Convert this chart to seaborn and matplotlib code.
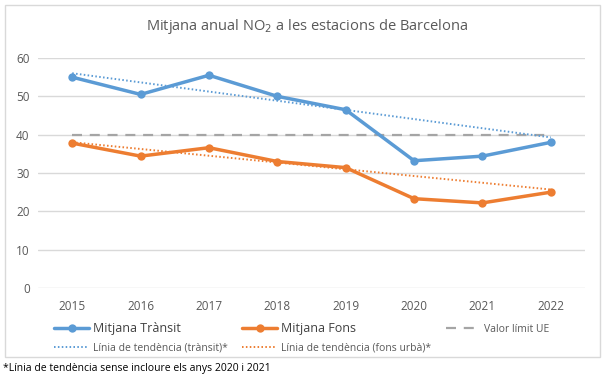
import numpy as np
import pandas as pd
import matplotlib
matplotlib.use("Agg")
import matplotlib.pyplot as plt
import seaborn as sns
from matplotlib.patches import Rectangle
from matplotlib.lines import Line2D

years = [2015, 2016, 2017, 2018, 2019, 2020, 2021, 2022]
transit = [55.0, 50.5, 55.5, 50.0, 46.5, 33.2, 34.4, 38.0]
fons = [37.8, 34.4, 36.6, 33.0, 31.4, 23.3, 22.2, 25.0]
limit_ue = [40] * len(years)
excluded_years = [2020, 2021]

title_txt = "Mitjana anual NO$_2$ a les estacions de Barcelona"
footnote = "*Línia de tendència sense incloure els anys 2020 i 2021"

sns.set_theme(style="white")
plt.rcParams['font.family'] = ['Open Sans', 'DejaVu Sans']

fig = plt.figure(figsize=(6.13, 3.83), dpi=100)
ax = fig.add_axes([38/613, 1-288/383, (585-38)/613, (288-58)/383])

blue = "#5B9BD5"
orange = "#ED7D31"
gray = "#A5A5A5"

df = pd.DataFrame({"year": years, "transit": transit, "fons": fons, "limit": limit_ue})

# trend lines (excluding 2020, 2021)
mask = ~df["year"].isin(excluded_years)
pt = np.polyfit(df.loc[mask, "year"], df.loc[mask, "transit"], 1)
pf = np.polyfit(df.loc[mask, "year"], df.loc[mask, "fons"], 1)
df["trend_t"] = np.polyval(pt, df["year"])
df["trend_f"] = np.polyval(pf, df["year"])

sns.lineplot(data=df, x="year", y="limit", ax=ax, color=gray, lw=1.6, dashes=False, zorder=2)
ax.lines[-1].set_linestyle((0, (4.5, 3.5)))
sns.lineplot(data=df, x="year", y="trend_t", ax=ax, color=blue, lw=1.4, zorder=3)
ax.lines[-1].set_linestyle((0, (0.8, 1.2)))
sns.lineplot(data=df, x="year", y="trend_f", ax=ax, color=orange, lw=1.4, zorder=3)
ax.lines[-1].set_linestyle((0, (0.8, 1.2)))
sns.lineplot(data=df, x="year", y="transit", ax=ax, color=blue, lw=2.5, marker="o",
             markersize=6, markeredgewidth=0, zorder=4)
sns.lineplot(data=df, x="year", y="fons", ax=ax, color=orange, lw=2.5, marker="o",
             markersize=6, markeredgewidth=0, zorder=4)

ax.set_xlim(2014.5, 2022.5)
ax.set_ylim(0, 60)
ax.set_yticks(range(0, 61, 10))
ax.set_xticks(years)
ax.set_xticklabels([str(y) for y in years])
ax.set_xlabel("")
ax.set_ylabel("")
ax.grid(axis="y", color="#D9D9D9", lw=1)
ax.set_axisbelow(True)
for s in ax.spines.values():
    s.set_visible(False)
ax.tick_params(axis="both", colors="#595959", labelsize=8.5, length=0, pad=6)
ax.tick_params(axis="x", pad=9)

fig.text(307/613, 1-26/383, title_txt, ha="center", va="center", fontsize=10.5, color="#595959")

# chart border
fig.patches.append(Rectangle((5/613, 1-357/383), 595/613, 352/383, transform=fig.transFigure,
                             fill=False, edgecolor="#D9D9D9", lw=1))

handles = [
    Line2D([], [], color=blue, lw=2.5, marker="o", markersize=6, markeredgewidth=0),
    Line2D([], [], color=blue, lw=1.4, linestyle=(0, (0.8, 1.2))),
    Line2D([], [], color=orange, lw=2.5, marker="o", markersize=6, markeredgewidth=0),
    Line2D([], [], color=orange, lw=1.4, linestyle=(0, (0.8, 1.2))),
    Line2D([], [], color=gray, lw=1.6, linestyle=(0, (4.5, 3.5))),
]
labels = ["Mitjana Trànsit", "Línia de tendència (trànsit)*",
          "Mitjana Fons", "Línia de tendència (fons urbà)*",
          "Valor límit UE"]
leg = fig.legend(handles, labels, ncol=3, loc="center left",
                 bbox_to_anchor=(45/613, 1-338/383), frameon=False,
                 fontsize=7.5, handlelength=3.3, columnspacing=1.4,
                 labelspacing=0.75, handletextpad=0.4)
for t in leg.get_texts():
    t.set_color("#595959")
leg.get_texts()[0].set_fontsize(9)
leg.get_texts()[2].set_fontsize(9)
leg.get_texts()[0].set_color("#404040")
leg.get_texts()[2].set_color("#404040")

fig.text(3/613, 1-368/383, footnote, ha="left", va="center", fontsize=7.5, color="#000000")

fig.savefig("out.png", dpi=100)
